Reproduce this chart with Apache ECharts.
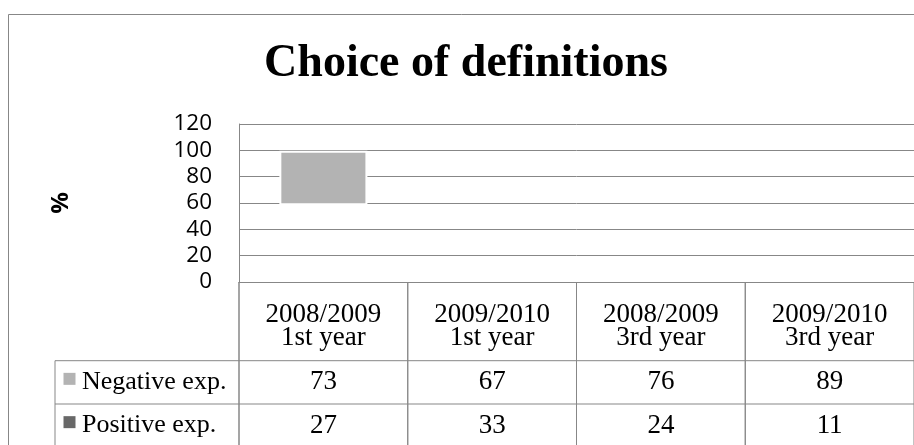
<!DOCTYPE html>
<html>
<head>
<meta charset="utf-8">
<script src="https://cdn.jsdelivr.net/npm/echarts@6/dist/echarts.min.js"></script>
<style>
  html, body { margin: 0; padding: 0; background: #fff; }
  #main { width: 914px; height: 445px; }
</style>
</head>
<body>
<div id="main"></div>
<script>
const categories = ['2008/2009\n1st year', '2009/2010\n1st year', '2008/2009\n3rd year', '2009/2010\n3rd year']
const negativeExp = [73, 67, 76, 89]
const positiveExp = [27, 33, 24, 11]
const seriesNames = ['Negative exp.', 'Positive exp.']
const seriesColors = ['#b3b3b3', '#686868']
const yTicks = [0, 20, 40, 60, 80, 100, 120]
// only one box actually shows up in the picture: low / high ends per category
const shownBarLow = [59, null, null, null]
const shownBarHigh = [99, null, null, null]

const lineColor = '#878787'
// table layout under the plot
const tableTop = 282
const headerH = 78.7
const rowH = 43.3
const legendLeft = 55
const plotLeft = 239

const chart = echarts.init(document.getElementById('main'))

const barData = []
categories.forEach((c, i) => {
  if (shownBarLow[i] != null) barData.push([i, shownBarLow[i], shownBarHigh[i]])
})

const tableData = categories.map((c, i) => [i, negativeExp[i], positiveExp[i]])

const serif = '"Liberation Serif", "Times New Roman", serif'

const option = {
  animation: false,
  grid: { left: plotLeft, top: 124, width: 685, height: 158 },
  xAxis: {
    type: 'category',
    data: categories,
    axisLine: { show: true, lineStyle: { color: lineColor, width: 1 } },
    axisTick: { show: false },
    axisLabel: { show: false },
    splitLine: { show: false }
  },
  yAxis: {
    type: 'value',
    min: yTicks[0],
    max: yTicks[yTicks.length - 1],
    interval: 20,
    name: '%',
    nameLocation: 'middle',
    nameRotate: 90,
    nameGap: 166,
    nameTextStyle: { fontFamily: 'Open Sans', fontWeight: 'bold', fontSize: 24, color: '#000' },
    axisLine: { show: true, lineStyle: { color: lineColor, width: 1 } },
    axisTick: { show: false },
    axisLabel: { fontFamily: 'Open Sans', fontSize: 22.5, color: '#000', margin: 27 },
    splitLine: { lineStyle: { color: lineColor, width: 1 } }
  },
  graphic: [
    {
      type: 'rect', z: -10, silent: true,
      shape: { x: 8.5, y: 14.5, width: 1000, height: 1000 },
      style: { fill: 'none', stroke: lineColor, lineWidth: 1 }
    },
    {
      type: 'text',
      style: {
        text: 'Choice of definitions', x: 466, y: 64.5,
        textAlign: 'center', textVerticalAlign: 'middle',
        font: 'bold 46px ' + serif, fill: '#000'
      }
    },
    // legend column of the data table
    {
      type: 'line', shape: { x1: legendLeft, y1: tableTop + headerH, x2: legendLeft, y2: 460 },
      style: { stroke: lineColor, lineWidth: 1 }
    },
    {
      type: 'line', shape: { x1: legendLeft, y1: tableTop + headerH, x2: 930, y2: tableTop + headerH },
      style: { stroke: lineColor, lineWidth: 1 }
    },
    {
      type: 'line', shape: { x1: legendLeft, y1: tableTop + headerH + rowH, x2: 930, y2: tableTop + headerH + rowH },
      style: { stroke: lineColor, lineWidth: 1 }
    },
    {
      type: 'line', shape: { x1: plotLeft, y1: tableTop, x2: plotLeft, y2: 460 },
      style: { stroke: lineColor, lineWidth: 1 }
    }
  ].concat(seriesNames.flatMap((name, k) => {
    const cy = tableTop + headerH + rowH * k + rowH / 2
    return [
      { type: 'rect', shape: { x: 63.5, y: cy - 9.5, width: 12, height: 12 }, style: { fill: seriesColors[k] } },
      {
        type: 'text',
        style: { text: name, x: 82, y: cy, textVerticalAlign: 'middle', font: '26px ' + serif, fill: '#000' }
      }
    ]
  })),
  series: [
    {
      name: 'shown',
      type: 'custom',
      data: barData,
      renderItem (params, api) {
        const top = api.coord([api.value(0), api.value(2)])
        const bot = api.coord([api.value(0), api.value(1)])
        const w = api.size([1, 0])[0] * 0.51
        return {
          type: 'rect',
          shape: { x: top[0] - w / 2, y: top[1], width: w, height: bot[1] - top[1] },
          style: { fill: seriesColors[0], stroke: '#fff', lineWidth: 2 }
        }
      }
    },
    {
      name: 'table',
      type: 'custom',
      clip: false,
      data: tableData,
      renderItem (params, api) {
        const i = api.value(0)
        const c = api.coord([i, 0])
        const bw = api.size([1, 0])[0]
        const x0 = c[0] - bw / 2
        const x1 = c[0] + bw / 2
        const rowMid1 = tableTop + headerH + rowH / 2
        const rowMid2 = tableTop + headerH + rowH * 1.5
        const ls = { stroke: lineColor, lineWidth: 1 }
        return {
          type: 'group',
          children: [
            { type: 'line', shape: { x1: x1, y1: tableTop, x2: x1, y2: 460 }, style: ls },
            { type: 'line', shape: { x1: x0, y1: tableTop, x2: x0, y2: 460 }, style: ls },
            {
              type: 'text',
              style: {
                text: categories[i], x: c[0], y: tableTop + headerH / 2 + 5,
                textAlign: 'center', textVerticalAlign: 'middle',
                font: '27px ' + serif, lineHeight: 23, fill: '#000'
              }
            },
            {
              type: 'text',
              style: {
                text: String(api.value(1)), x: c[0], y: rowMid1,
                textAlign: 'center', textVerticalAlign: 'middle',
                font: '27px ' + serif, fill: '#000'
              }
            },
            {
              type: 'text',
              style: {
                text: String(api.value(2)), x: c[0], y: rowMid2,
                textAlign: 'center', textVerticalAlign: 'middle',
                font: '27px ' + serif, fill: '#000'
              }
            }
          ]
        }
      }
    }
  ]
}

chart.setOption(option)
</script>
</body>
</html>
